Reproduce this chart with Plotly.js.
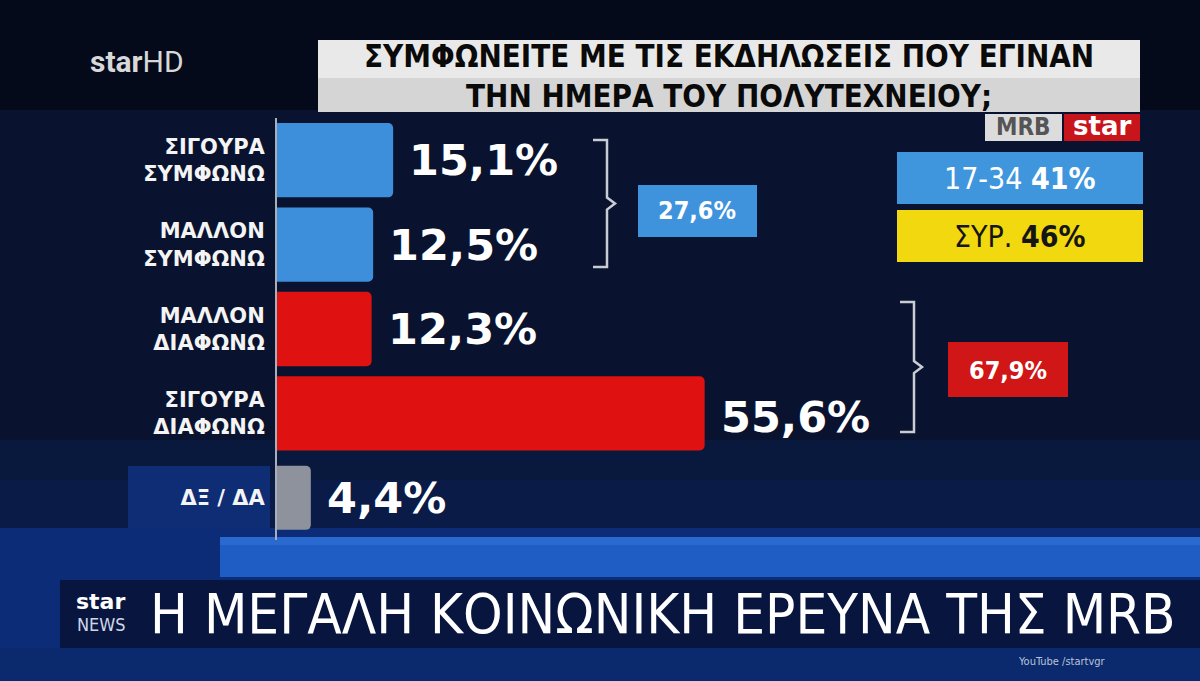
<!DOCTYPE html>
<html>
<head>
<meta charset="utf-8">
<script src="https://cdn.plot.ly/plotly-3.0.1.min.js"></script>
<style>html,body{margin:0;padding:0;background:#040a1a;}#chart{width:1200px;height:681px;}</style>
</head>
<body>
<div id="chart"></div>
<script>
// ---- data ----
const categories = ['ΣΙΓΟΥΡΑ<br>ΣΥΜΦΩΝΩ', 'ΜΑΛΛΟΝ<br>ΣΥΜΦΩΝΩ', 'ΜΑΛΛΟΝ<br>ΔΙΑΦΩΝΩ', 'ΣΙΓΟΥΡΑ<br>ΔΙΑΦΩΝΩ', 'ΔΞ / ΔΑ'];
const values = [15.1, 12.5, 12.3, 55.6, 4.4];
const groupTotals = [27.6, 67.9];          // agree total, disagree total
const sideLabels = ['17-34', 'ΣΥΡ.'];
const sideValues = [41, 46];
const titleLines = ['ΣΥΜΦΩΝΕΙΤΕ ΜΕ ΤΙΣ ΕΚΔΗΛΩΣΕΙΣ ΠΟΥ ΕΓΙΝΑΝ', 'ΤΗΝ ΗΜΕΡΑ ΤΟΥ ΠΟΛΥΤΕΧΝΕΙΟΥ;'];
const bannerText = 'Η ΜΕΓΑΛΗ ΚΟΙΝΩΝΙΚΗ ΕΡΕΥΝΑ ΤΗΣ MRB';

// ---- styles ----
const W = 1200, H = 681;
const BLUE = '#3d8fdb', RED = '#df1111', GRAY = '#8d929c';
const barColors = [BLUE, BLUE, RED, RED, GRAY];
const barWidths = [0.88, 0.88, 0.88, 0.88, 0.76];
const px = x => x / W;
const py = y => 1 - y / H;
const fmt = v => v.toFixed(1).replace('.', ',') + '%';
const COND = 'DejaVu Sans Condensed, Liberation Sans Narrow, DejaVu Sans, sans-serif';
const BOLD = 'DejaVu Sans, Verdana, sans-serif';

function rect(x0, y0, x1, y1, color, opacity) {
  return {type: 'rect', xref: 'paper', yref: 'paper', x0: px(x0), x1: px(x1), y0: py(y1), y1: py(y0),
          fillcolor: color, opacity: opacity == null ? 1 : opacity, line: {width: 0}, layer: 'below'};
}
function bracket(xl, xv, xt, ytop, ybot) {
  const ym = (ytop + ybot) / 2;
  const P = (x, y) => px(x) + ',' + py(y);
  return {type: 'path', xref: 'paper', yref: 'paper', layer: 'above',
    path: 'M' + P(xl, ytop) + ' L' + P(xv, ytop) + ' L' + P(xv, ym - 6) + ' L' + P(xt, ym) +
          ' L' + P(xv, ym + 6) + ' L' + P(xv, ybot) + ' L' + P(xl, ybot),
    line: {color: '#c9ccd2', width: 2.5}};
}
function txt(x, y, text, opts) {
  return Object.assign({xref: 'paper', yref: 'paper', x: px(x), y: py(y), text: text, showarrow: false,
    xanchor: 'center', yanchor: 'middle', font: {color: '#ffffff', size: 20, family: BOLD}}, opts || {});
}

const shapes = [
  rect(0, 110, 1200, 540, '#09132f'),
  rect(0, 440, 1200, 540, '#0c2258', 0.35),
  rect(0, 480, 1200, 540, '#0c2258', 0.35),
  rect(128, 466, 270, 536, '#0f2d74'),
  rect(0, 528, 1200, 681, '#0d2c78'),
  rect(220, 537, 1200, 577, '#1f5cc4'),
  rect(220, 537, 1200, 545, '#2a6ad0'),
  rect(60, 580, 1200, 648, '#08163f'),
  rect(0, 648, 1200, 681, '#0b2a6e'),
  // title box
  rect(318, 40, 1140, 112, '#e9e9e9'),
  rect(318, 78, 1140, 112, '#c4c4c4', 0.55),
  // logo boxes
  rect(985, 114, 1062, 141, '#dcdcdc'),
  rect(1064, 114, 1140, 141, '#c8141b'),
  rect(897, 152, 1143, 204, '#4096dc'),
  rect(897, 210, 1143, 262, '#f2d80f'),
  // group total boxes
  rect(638, 185, 757, 237, '#3f93dc'),
  rect(948, 342, 1068, 397, '#d01616'),
  bracket(593, 607, 615, 140, 267),
  bracket(900, 914, 922, 302, 432)
];

const annotations = [];
// value labels at the end of each bar (data coordinates)
values.forEach((v, i) => {
  annotations.push({xref: 'x', yref: 'y', x: v, y: categories[i], text: fmt(v), showarrow: false,
    xanchor: 'left', yanchor: 'middle', xshift: 14, yshift: i === 3 ? -4 : 0,
    font: {color: '#ffffff', size: 43, family: BOLD, weight: 'bold'}});
});
// group totals
annotations.push(txt(697, 211, fmt(groupTotals[0]), {font: {color: '#ffffff', size: 25, family: COND, weight: 'bold'}}));
annotations.push(txt(1008, 370, fmt(groupTotals[1]), {font: {color: '#ffffff', size: 25, family: COND, weight: 'bold'}}));
// side boxes
annotations.push(txt(1020, 178, sideLabels[0] + ' <b>' + sideValues[0] + '%</b>', {font: {color: '#ffffff', size: 30, family: COND}}));
annotations.push(txt(1020, 236, sideLabels[1] + ' <b>' + sideValues[1] + '%</b>', {font: {color: '#151515', size: 30, family: COND}}));
// logos
annotations.push(txt(1023, 127, 'MRB', {font: {color: '#555555', size: 24, family: COND, weight: 'bold'}}));
annotations.push(txt(1102, 126, 'star', {font: {color: '#ffffff', size: 26, family: BOLD, weight: 'bold'}}));
annotations.push(txt(88, 61, '<b>star</b>HD', {xanchor: 'left', font: {color: '#d8d8d8', size: 30, family: 'Roboto, DejaVu Sans, sans-serif'}}));
// title (two lines in one text)
annotations.push(txt(729, 76, titleLines.join('<br>'), {font: {color: '#0a0a0a', size: 31, family: COND, weight: 'bold'}}));
// bottom banner
annotations.push(txt(100, 601, '<b>star</b>', {font: {color: '#ffffff', size: 22, family: BOLD}}));
annotations.push(txt(101, 624, 'NEWS', {font: {color: '#d0d6e8', size: 18, family: COND, weight: 'normal'}}));
annotations.push(txt(148, 613, bannerText, {xanchor: 'left', font: {color: '#ffffff', size: 56, family: COND}}));
annotations.push(txt(1062, 661, 'YouTube /startvgr', {font: {color: '#b9c2d8', size: 11, family: COND}}));

const trace = {
  type: 'bar', orientation: 'h',
  x: values, y: categories,
  width: barWidths,
  marker: {color: barColors, line: {width: 0}},
  hoverinfo: 'skip', cliponaxis: false
};

const layout = {
  width: W, height: H,
  margin: {l: 0, r: 0, t: 0, b: 0},
  paper_bgcolor: '#040a1a', plot_bgcolor: 'rgba(0,0,0,0)',
  showlegend: false,
  barcornerradius: 5,
  xaxis: {domain: [277 / W, 1], range: [0, 120], visible: false, fixedrange: true},
  yaxis: {domain: [1 - 540 / H, 1 - 118 / H], type: 'category', range: [4.5, -0.5],
          showline: true, linecolor: '#a9afb9', linewidth: 2, ticks: '', showgrid: false, zeroline: false,
          ticklabelstandoff: 6,
          tickfont: {color: '#f4f4f4', size: 21, family: BOLD, weight: 'bold'}},
  shapes: shapes,
  annotations: annotations
};

Plotly.newPlot('chart', [trace], layout, {displayModeBar: false, staticPlot: true});
</script>
</body>
</html>
